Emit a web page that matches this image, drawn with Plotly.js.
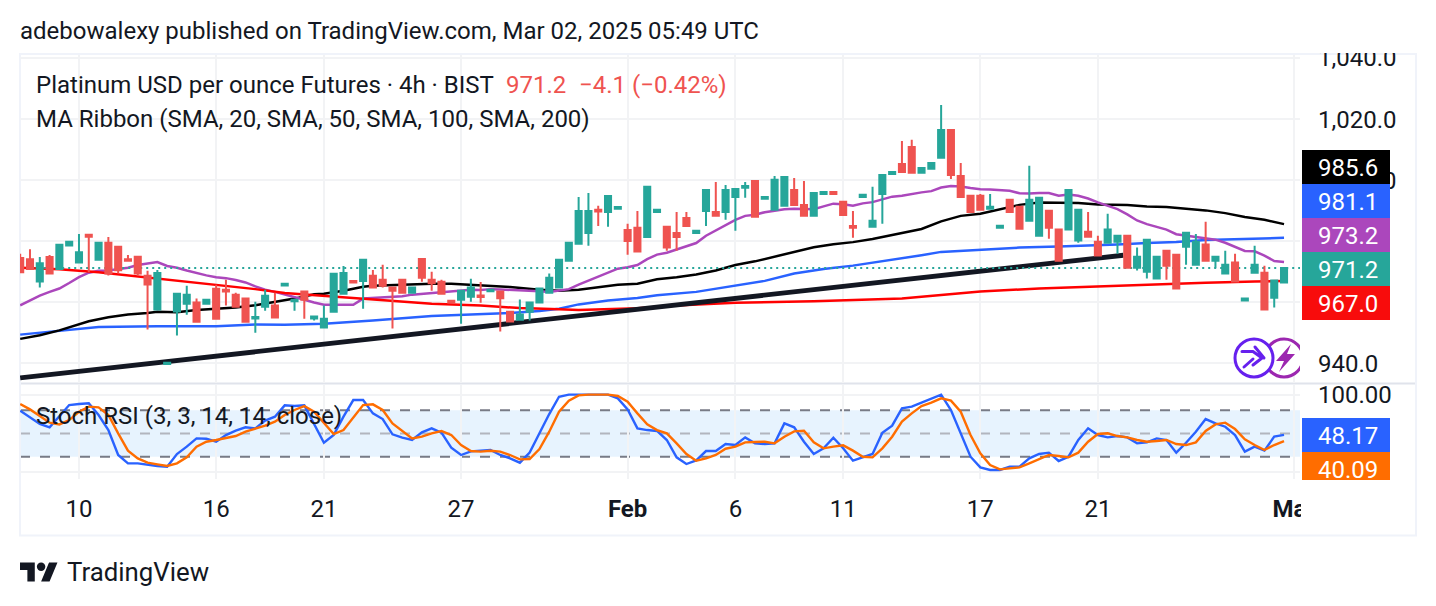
<!DOCTYPE html>
<html><head><meta charset="utf-8">
<script src="https://cdn.plot.ly/plotly-3.0.0.min.js"></script>
<style>html,body{margin:0;padding:0;background:#fff;overflow:hidden}#c{position:absolute;left:0;top:0;width:1436px;height:606px}
.ov{position:absolute}</style></head><body>
<div id="c"></div>
<div class="ov" style="left:1302px;top:42px;width:100px;height:11px;background:#fff"></div>
<div class="ov" style="left:1301px;top:480px;width:100px;height:54px;background:#fff"></div>
<svg class="ov" style="left:20px;top:561px" width="38" height="22" viewBox="0 4 36 18"><path fill="#131722" d="M14 22H7V11H0V4h14v18zM28 22h-8l7.5-18h8L28 22z"/><circle fill="#131722" cx="20" cy="8" r="4"/></svg>
<svg class="ov" style="left:1230px;top:332px" width="70" height="50" viewBox="0 0 70 50">
<circle cx="54" cy="26" r="19" fill="#fff" stroke="#9c27b0" stroke-width="3"/>
<path d="M61 12L46 29h8l-5 11 16-18h-8z" fill="#9c27b0"/>
<circle cx="24" cy="26" r="19" fill="#fff" stroke="#6620ee" stroke-width="3"/>
<path d="M12 19.5h11l9 6.5-9 7M25 15l9 11M14 35l9-8" fill="none" stroke="#6620ee" stroke-width="3" stroke-linecap="round" stroke-linejoin="round"/>
</svg>
<script>
const candleOpen=[974.5,974.1,966.8,974.8,970.9,978.6,973,982.1,973.9,979.5,978.2,974.1,974.9,968.7,957.6,939.8,957,959.5,959.9,959.5,964.4,964.1,962.5,961.2,954.7,958.5,958.9,965.5,960.3,963.5,954.7,951.7,956.9,962.8,967,967,968.7,967.4,964.8,967.4,963.1,974.2,967.4,966.7,960.5,960.8,961.8,962.2,963.6,963.5,956.9,954.3,956.9,959.9,963.1,964.8,973.6,979.2,982.7,990.3,989.6,990.6,983.7,984.4,981.4,989.6,984.7,982.7,987.6,982.7,989.9,989.6,989.6,994.5,997.5,999.7,993.9,990.3,991.6,996.8,991.9,988.3,995.5,996.1,992.9,985,994.5,984.7,995.5,1002,1005.3,1010.9,1002.4,1003.7,1007.3,1016.4,1001.4,994.9,994.9,990.6,984.4,993.6,991.3,986.7,981.8,990,983.8,983.8,980.2,983.1,979.8,979.5,979.8,981.8,971.3,970,967.8,976.9,975.6,978.2,972.3,978.9,973.6,969.4,973,960.6,969.7,969.7,961.5,966.5];
const candleHigh=[975.9,977.4,974.8,975.5,978.8,979.8,982.4,982.1,979.5,981.4,978.2,975.5,974.9,970.3,970.6,940.2,962.8,965.4,961.2,960.8,965.7,967.4,963.1,961.2,960.2,964.1,963.1,966.1,960.8,963.5,955.3,958.9,969.3,971.9,967,973.9,970.6,972.3,964.8,967.4,964.8,974.2,970,967.4,960.5,963.8,967.7,966.6,964.1,963.5,956.9,960.9,960.2,964.8,969.4,974.2,979.5,994.5,995.8,991.6,994.8,991.2,985.7,989.9,997.8,990.3,984.7,989.6,989.6,983.4,996.8,999.4,998.4,997.1,999.4,999.7,994.5,1001.4,1001,1000.7,999.7,995.8,996.1,996.1,993.2,989.9,995.2,997.8,1001.7,1002.7,1012.8,1013.2,1004,1005.6,1024.6,1016.4,1005.6,994.9,995.5,995.5,985.1,993.6,991.3,1004.7,994.5,990,983.8,996.8,990.3,989.6,981.8,989,981.8,981.8,977.9,980.5,974.9,976.9,975.6,982.8,982.4,986.4,974.9,976.9,975.9,961.2,978.5,972,967.1,971.2];
const candleLow=[969.8,970.9,964.8,969.4,970.9,978.6,973,969.8,973.9,968.8,969.4,973.6,968.8,951.1,957.6,939.8,949.1,955.9,953.6,959.5,954.6,958.9,958.5,953.6,950,957.2,955,965.5,957.2,954.6,954,951.7,956.9,962.8,966.5,957.9,964.8,964.8,951.4,963.1,963.1,966.7,963.8,962.8,959.9,953,960.2,959.8,963.6,950.4,953.7,954.3,954,959.9,963.1,964.8,973.6,979.2,978.5,985,984.7,990.6,975.6,976.6,981.4,989.6,976.9,976.9,985,982.7,985,988.3,987,983.4,994.2,988,993.9,990.3,991.6,991.9,988.3,988.3,995.5,995.5,988.6,981.1,994.5,984.7,985.7,1002,1002.7,1002.4,1002.4,1003.7,1007.3,1000.4,994.5,989.6,990,990.6,984.4,989.6,984.1,986.7,981.8,980.8,973.6,983.8,979.5,981.5,975.3,979.5,975.9,971.3,970.4,967.8,967.8,967.4,964.5,972.3,972.3,973.3,971.3,969.4,966.8,960.6,969.7,957.6,958.3,966.5];
const candleClose=[969.8,970.9,972.8,969.4,978.8,979.8,976.4,981.5,979.5,969.4,970.5,973.6,969.4,965.8,969.6,940.2,962.8,962.5,953.6,960.8,954.6,963.5,958.5,953.6,955.2,962.1,955,966.1,960.8,960.8,955.3,954.6,969.3,969.6,966.5,973.9,964.8,965.4,963.8,963.1,964.8,968,966.2,962.8,959.9,963.8,964.8,961.7,964.1,961.3,953.7,956,959.9,964.5,968,973.9,979.5,989.9,989.9,989.7,994.8,991.2,980.1,976.6,997.8,990.3,977.9,981.4,985,983.4,996.8,988.3,996.8,997.1,998.1,988,994.5,1000.1,1001,991.9,988.3,995.8,996.1,995.5,988.6,984.4,995.2,986.7,1001.7,1002.7,1002.7,1002.4,1004,1005.6,1016.4,1001.7,994.5,989.6,990.3,991.3,985.1,989.6,984.1,993.6,994.2,984.4,973.6,996.8,990.3,981.5,975.3,983.8,981.8,971.3,974.9,980.5,974.9,972,964.5,982.8,979.8,973.6,974.9,972.3,966.8,961.2,972.3,957.6,967.1,971.2];

const ma20=[959,960.6,962.2,963.4,964.5,966.3,968.2,969.7,970.3,970.4,970.8,971.3,972.2,972.7,973.2,971.9,971.3,970.4,969.5,968.8,968.2,967.9,967.3,966.5,965.2,964.1,963.4,962.6,961.8,960.8,959.9,959.2,959.2,959.3,959.2,961.2,961.4,961.4,961.7,962,962.5,962.8,963.1,963.4,963.6,964,964.1,964,964.3,964.2,964.1,963.9,963.7,963.6,963.4,963.8,964.3,965.8,967.1,968.5,969.9,971,971.5,972.2,974.1,975.6,976.2,977.2,978.3,979.4,981.8,983.5,985.3,987,988.3,988.7,989.5,989.9,990.5,990.6,990.5,990.5,991.4,992.3,992.1,991.6,992.4,992.8,993.7,994.6,994.9,995.5,996,996.4,997.6,998.1,997.9,997.4,997,996.9,996.8,996.5,995.7,995.6,995.8,995.8,994.9,995.3,994.9,994,992.7,991.7,990.5,988.8,986.8,985.6,984.7,983.8,982.3,981.8,981.3,981,980.5,979.5,978.1,976.8,976.7,975.3,973.5,973.2];

const ma50Idx=[0,2,4,6,7,9,11,13,14,16,18,20,22,24,26,28,30,31,33,35,36,38,40,42,44,46,47,48,50,53,55,57,59,61,63,64,65,67,69,71,73,75,77,79,81,83,85,87,89,90,92,94,96,98,100,102,104,106,108,110,113,115,117,119,121,123,125,127,129];
const ma50=[948,949.2,950.8,952.7,953.8,955.1,956,956.5,956.9,956.7,957.5,957.9,958.3,959,960,961.2,962.6,962.8,963.8,965.1,965.4,965.7,965.8,966.1,966.1,965.8,965.5,965.4,965,964.1,963.8,964.1,965,965.7,966.1,966.7,967.5,968.2,969.1,970.4,972.2,973.4,974.9,976.3,978,979,979.7,980.7,982.1,982.7,984,986.5,988.3,989,990.5,991.9,992.7,992.6,992.5,992,991.9,991.4,991.2,990.6,990.1,989.2,987.9,987,985.6];

const ma100Idx=[0,4,8,14,20,24,27,31,36,42,47,50,53,55,57,60,63,65,69,73,76,79,82,85,88,90,92,94,96,99,102,106,109,112,115,118,121,124,129];
const ma100=[949.4,950.7,951.9,952.1,952.1,952.7,952.6,953,954,955.5,956,956.5,957.1,957.9,959.3,960.6,961.4,962.3,963.4,965.4,967,969.4,970.9,972,973.4,974.3,975.4,976.5,976.9,977.3,977.9,978.3,978.5,978.9,979.4,979.7,980.4,980.7,981.1];

const ma200Idx=[0,4,8,13,16,20,24,27,31,35,39,42,47,51,55,57,63,67,73,81,90,92,98,104,110,116,121,126,129];
const ma200=[971.3,970.8,969.8,968.1,967,965.7,964.3,963,962.1,961.3,960.3,959.5,958.9,958.1,957.7,957.5,958,958.9,959.8,960.3,961.2,961.8,963.5,964.5,965.2,966,966.4,966.8,967];

const trendIdx=[0,112.6];
const trendPrice=[935.2,975.4];
const lastPrice=971.2;

const stochK=[79.3,70.8,62.2,57.9,71.6,86.6,87.9,88.8,73.8,54.4,22.3,11.5,11.5,9.4,8.1,7.3,23.6,33,43.7,43.3,39.4,48,53.6,57.9,56.6,66.5,71.6,86.2,85.3,86.2,63,38.1,48,71.6,93,93,75.9,68.6,48.9,44.6,41.6,51.4,56.6,51,31.7,22.3,27,28.3,28.7,22.3,18,12.4,25.3,50.2,75,97.3,100,100,100,100,100,95.2,81,56.6,54.4,53.2,41.6,19.3,10.7,15.4,27.4,27.4,36.4,35.1,45,37.3,36.4,37.3,63,57.9,39.4,23.6,30.9,44.6,30.9,15,19.3,23.6,51,60,82.3,84.5,89.6,94.3,100,80.2,50.2,20.1,6.4,3,3,7.3,7.3,18,23.6,25.3,14.6,20.1,41.6,56.6,48,45,46.7,45,37.3,38.6,43.7,41.6,25.3,38.1,52.3,68.6,63,58.7,48,26.6,33,27.9,45.9,48.17];
const stochD=[87.9,81,72.5,63.9,61.7,67.3,78,84.5,83.6,73.8,50.2,27.9,18,12.4,10.3,8.1,11.5,19.3,33,39.4,41.6,43.7,46.7,52.3,55.7,60,65.2,73.8,80.2,85.3,78,63,49.3,54.4,70.8,86.6,87.5,80.2,63,53.6,43.7,45.9,50.2,53.2,48,35.1,27.4,26.6,27.8,26.6,22.3,16.7,17.1,30,52.3,78,92.2,99,100,100,100,98.2,90.9,75.9,61.7,54.4,50.2,37.3,23.6,15,18,22.3,30.4,33,38.6,39,39.4,37.3,45.9,52.7,53.6,38.6,30.9,33,34.7,27.9,20.1,19.3,30.9,45.9,65.2,75.9,85.3,89.6,95.2,92.2,78,48,24.4,9.4,3.8,5.1,6.4,11.5,16.7,22.3,21,19.3,25.3,39.4,49.3,50.2,46.7,45,41.6,39.4,40.3,41.6,36.4,35.1,38.6,53.2,61.7,63.9,55.7,42.4,35.1,28.7,35.1,40.09];

const xTickVals=[6,20,31,45,62,73,84,98,110,130];
const xTickText=['10','16','21','27','<b>Feb</b>','6','11','17','21','<b>Mar</b>'];
const priceTickVals=[940,960,980,1000,1020,1040];
const priceTickText=['940.0','','','1,000.0','1,020.0','1,040.0'];
const stochTickVals=[0,100];
const stochTickText=['','100.00'];
const priceTags=[['985.6','#000000'],['981.1','#2962ff'],['973.2','#ab47bc'],['971.2','#26a69a'],['967.0','#f80c0c']];
const stochTags=[['48.17','#2962ff',418,34],['40.09','#ff6d00',452,34]];

const W=1436,H=606;
const px=v=>v/W, py=v=>1-v/H;
const idx=candleOpen.map((_,i)=>i);
const UP='#26a69a',DN='#ef5350',F='Roboto, sans-serif',TXT='#131722',GRID='#f2f3f5';
const line=(x,y,c,w,yax,extra)=>({type:'scatter',mode:'lines',x,y,xaxis:'x',yaxis:yax||'y',hoverinfo:'skip',showlegend:false,line:Object.assign({color:c,width:w,shape:'linear'},extra||{})});

const data=[
 line(ma100Idx,ma100,'#2962ff',2.5),
 line(ma50Idx,ma50,'#000000',2.5),
 line(idx,ma20,'#ab47bc',2.5),
 line(ma200Idx,ma200,'#ff0000',2.5),
 line(trendIdx,trendPrice,'#131722',4.8),
 line([0,130.63],[lastPrice,lastPrice],UP,2,'y',{dash:'2px,4px'}),
 line(idx,stochK,'#2962ff',2.4,'y2'),
 line(idx,stochD,'#ff6d00',2.4,'y2'),
 {type:'candlestick',x:idx,open:candleOpen,high:candleHigh,low:candleLow,close:candleClose,xaxis:'x3',yaxis:'y3',showlegend:false,hoverinfo:'skip',
  whiskerwidth:0,increasing:{line:{color:UP,width:2},fillcolor:UP},decreasing:{line:{color:DN,width:2},fillcolor:DN}}
];

const xR=[-0.02,130.63], yR=[933.55,1041], dom=[1-383/H,1-55/H];
const ann=(x,y,text,color,size,extra)=>Object.assign({xref:'paper',yref:'paper',x:px(x),y:py(y),text,showarrow:false,xanchor:'left',yanchor:'middle',font:{family:F,size:size||24,color:color||TXT}},extra||{});

const annotations=[
 ann(18,31,'adebowalexy published on TradingView.com, Mar 02, 2025 05:49 UTC',TXT,24),
 ann(34,85,'Platinum USD per ounce Futures · 4h · BIST',TXT,24),
 ann(504,85,'971.2',DN,24),
 ann(576.5,85,'−4.1 (−0.42%)',DN,24),
 ann(34,119,'MA Ribbon (SMA, 20, SMA, 50, SMA, 100, SMA, 200)',TXT,24),
 ann(34,416,'Stoch RSI (3, 3, 14, 14, close)',TXT,24),
 ann(65,572,'TradingView',TXT,25.8)
];
priceTags.forEach((t,i)=>annotations.push(ann(1348,168+34*i,t[0],'#fff',24,{xanchor:'center'})));
stochTags.forEach(t=>annotations.push(ann(1348,t[2]+18,t[0],'#fff',24,{xanchor:'center'})));

const rect=(x0,y0,x1,y1,fill)=>({type:'rect',xref:'paper',yref:'paper',x0:px(x0),x1:px(x1),y0:py(y0),y1:py(y1),fillcolor:fill,line:{width:0},layer:'above'});
const shapes=[
 {type:'rect',xref:'paper',yref:'y2',x0:px(20),x1:px(1300),y0:20,y1:80,fillcolor:'rgba(33,150,243,0.11)',line:{width:0},layer:'below'},
 {type:'line',xref:'paper',yref:'y2',x0:px(20),x1:px(1300),y0:80,y1:80,line:{color:'#787b86',width:2,dash:'10px,10px'},layer:'below'},
 {type:'line',xref:'paper',yref:'y2',x0:px(20),x1:px(1300),y0:50,y1:50,line:{color:'#b2b5be',width:2,dash:'10px,10px'},layer:'below'},
 {type:'line',xref:'paper',yref:'y2',x0:px(20),x1:px(1300),y0:20,y1:20,line:{color:'#787b86',width:2,dash:'10px,10px'},layer:'below'},
 {type:'line',xref:'paper',yref:'paper',x0:px(20),x1:px(1416),y0:py(383.5),y1:py(383.5),line:{color:'#e0e3eb',width:2},layer:'below'},
 {type:'rect',xref:'paper',yref:'paper',x0:px(20),x1:px(1416),y0:py(54),y1:py(535.5),line:{color:'#f0f3fa',width:2},layer:'below'}
];
priceTags.forEach((t,i)=>shapes.push(rect(1302,150+34*i,1390,184+34*i,t[1])));
stochTags.forEach(t=>shapes.push(rect(1302,t[2],1390,t[2]+t[3],t[1])));

const layout={
 width:W,height:H,autosize:false,margin:{l:0,r:0,t:0,b:0},paper_bgcolor:'#fff',plot_bgcolor:'rgba(0,0,0,0)',showlegend:false,
 font:{family:F,color:TXT,size:24},boxgap:0.38,boxgroupgap:0,
 xaxis:{domain:[px(20),px(1300)],range:xR,anchor:'y2',tickmode:'array',tickvals:xTickVals,ticktext:xTickText,showgrid:true,gridcolor:GRID,gridwidth:2,zeroline:false,showline:false,ticks:'',ticklabelstandoff:13,tickangle:0,rangeslider:{visible:false},tickfont:{family:F,size:24,color:TXT}},
 yaxis:{domain:dom,range:yR,anchor:'x',side:'right',tickmode:'array',tickvals:priceTickVals,ticktext:priceTickText,showgrid:true,gridcolor:GRID,gridwidth:2,zeroline:false,showline:false,ticks:'',ticklabelstandoff:17,tickfont:{family:F,size:24,color:TXT}},
 yaxis2:{domain:[1-479/H,1-385/H],range:[-8.6,112.4],anchor:'x',side:'right',tickmode:'array',tickvals:stochTickVals,ticktext:stochTickText,showgrid:true,gridcolor:GRID,gridwidth:2,zeroline:false,showline:false,ticks:'',ticklabelstandoff:17,tickfont:{family:F,size:24,color:TXT}},
 xaxis3:{overlaying:'x',anchor:'y3',range:xR,domain:[px(20),px(1300)],visible:false,showgrid:false,zeroline:false,rangeslider:{visible:false}},
 yaxis3:{overlaying:'y',anchor:'x3',range:yR,domain:dom,visible:false,showgrid:false,zeroline:false},
 shapes,annotations
};
Plotly.newPlot('c',data,layout,{staticPlot:true,displayModeBar:false});
</script></body></html>
